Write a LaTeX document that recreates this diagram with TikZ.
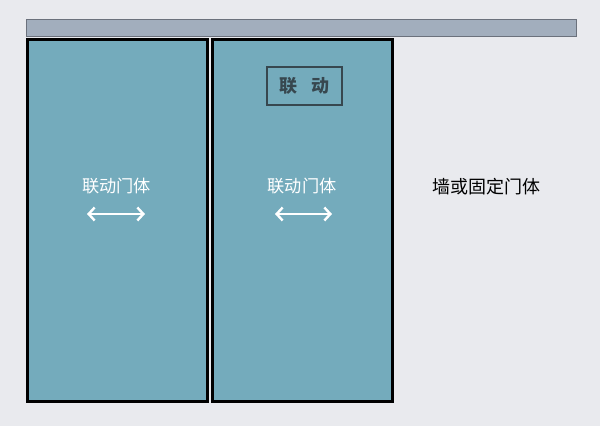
\documentclass[tikz,border=0pt]{standalone}
\usepackage{fontspec}
\usepackage{xcolor}
\usepackage{tikz}
\usetikzlibrary{arrows.meta, positioning}
\newfontfamily\cjk{Noto Sans CJK SC}
\definecolor{bggray}{HTML}{E9EAEE}
\definecolor{railgray}{HTML}{A2AEBD}
\definecolor{railedge}{HTML}{6B717C}
\definecolor{doorteal}{HTML}{74ABBC}
\definecolor{linkdark}{HTML}{37474F}

\begin{document}
\begin{tikzpicture}[x=1pt,y=-1pt,
    door/.style={draw=black, line width=3pt, fill=doorteal, minimum width=180pt, minimum height=362pt, inner sep=0pt, outer sep=0pt},
    doortext/.style={text=white, font=\cjk\fontsize{17.2}{20}\selectfont},
    slide/.style={white, line width=2.4pt, {Straight Barb[length=6pt,width=13pt]}-{Straight Barb[length=6pt,width=13pt]}}]
    % Background and margins
    \fill[bggray] (0,0) rectangle (600,426);
    \useasboundingbox (0,0) rectangle (600,426);

    % Top rail
    \node[draw=railedge, line width=1pt, fill=railgray, minimum width=550pt, minimum height=17.5pt, inner sep=0pt] (rail) at (301.5,27.75) {};

    % Two linked door leaves
    \node[door] (leftdoor) at (117.5,220.5) {};
    \node[door] (rightdoor) at (302.5,220.5) {};

    % Linkage tag
    \node[draw=linkdark, line width=2pt, minimum width=75pt, minimum height=38pt, inner sep=0pt, text=linkdark, font=\cjk\bfseries\fontsize{18}{21}\selectfont] (linkbox) at (304.5,86) {联\hspace{15pt}动};

    % Door labels and sliding arrows
    \node[doortext] (leftlabel) at (116.5,186.5) {联动门体};
    \node[doortext] (rightlabel) at (302,186.5) {联动门体};
    \coordinate (la) at (87,214);
    \coordinate (lb) at (145,214);
    \coordinate (ra) at (275,214);
    \coordinate (rb) at (332,214);
    \draw[slide] (la) -- (lb);
    \draw[slide] (ra) -- (rb);

    % Wall side
    \node[font=\cjk\fontsize{18}{21}\selectfont] (walllabel) at (486,187) {墙或固定门体};
\end{tikzpicture}
\end{document}
